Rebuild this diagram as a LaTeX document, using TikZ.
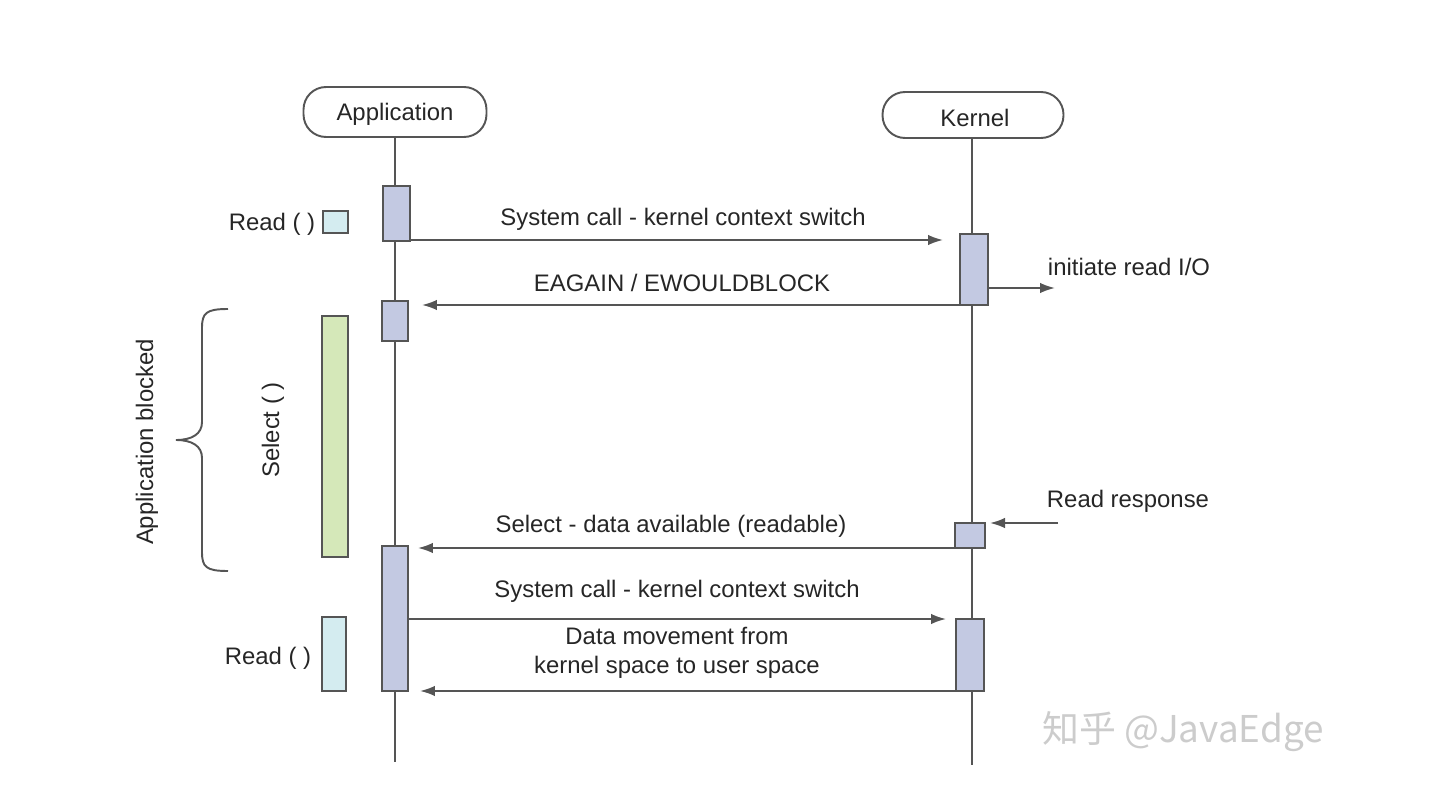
\documentclass[tikz,border=0pt]{standalone}
\usepackage{fontspec}
\setmainfont{Liberation Sans}
\newfontfamily\cjkfont{Noto Sans CJK SC}
\usetikzlibrary{arrows.meta,positioning,calc}
\definecolor{Xline}{RGB}{85,85,85}
\definecolor{Xact}{RGB}{195,201,226}
\definecolor{Xgreen}{RGB}{213,232,185}
\definecolor{Xcyan}{RGB}{212,236,240}
\tikzset{
  msg/.style={-{Latex[length=3mm,width=2.1mm]}, line width=1.1pt, draw=Xline},
  life/.style={line width=1.3pt, draw=Xline},
  actor/.style={draw=Xline, line width=1.1pt, rounded corners=0.45cm, inner sep=0pt, outer sep=0pt},
  actbox/.style={draw=Xline, line width=1.1pt, fill=Xact, inner sep=0pt, outer sep=0pt},
  callbox/.style={draw=Xline, line width=1.1pt, inner sep=0pt, outer sep=0pt},
  lbl/.style={font=\fontsize{13.6}{16.4}\selectfont, text=black!85, align=center, inner sep=0pt}
}
\begin{document}
\begin{tikzpicture}[x=0.02cm, y=-0.02cm]
  \useasboundingbox (0,0) rectangle (1446,804);

  % lifelines
  \node[actor, minimum width=3.66cm, minimum height=1cm] (app) at (395,112) {};
  \node[actor, minimum width=3.62cm, minimum height=0.92cm] (kern) at (973,115) {};
  \node[lbl] (applbl) at (395,114) {Application};
  \node[lbl] (kernlbl) at (975,118) {Kernel};
  \coordinate (append) at (395,762);
  \coordinate (kernend) at (972,765);
  \draw[life] (app.south) -- (append);
  \draw[life] (kern.south -| kernend) -- (kernend);

  % activations
  \node[actbox, minimum width=0.54cm, minimum height=1.1cm] (a1) at (396.5,213.5) {};
  \node[actbox, minimum width=0.52cm, minimum height=0.8cm] (a2) at (395,321) {};
  \node[actbox, minimum width=0.52cm, minimum height=2.9cm] (a3) at (395,618.5) {};
  \node[actbox, minimum width=0.56cm, minimum height=1.42cm] (k1) at (974,269.5) {};
  \node[actbox, minimum width=0.6cm, minimum height=0.5cm] (k2) at (970,535.5) {};
  \node[actbox, minimum width=0.56cm, minimum height=1.44cm] (k3) at (970,655) {};

  % calls on the application side
  \node[callbox, fill=Xcyan, minimum width=0.5cm, minimum height=0.44cm] (rd1) at (335.5,222) {};
  \node[callbox, fill=Xgreen, minimum width=0.52cm, minimum height=4.82cm] (sel) at (335,436.5) {};
  \node[callbox, fill=Xcyan, minimum width=0.48cm, minimum height=1.48cm] (rd2) at (334,654) {};
  \node[lbl] (rd1lbl) at (272,224) {Read ( )};
  \node[lbl, rotate=90] (sellbl) at (273,430) {Select ( )};
  \node[lbl] (rd2lbl) at (268,658) {Read ( )};

  % blocked brace
  \draw[line width=1.1pt, draw=Xline] (228,309) .. controls (206,309) and (202,313) .. (202,328)
    -- (202,422) .. controls (202,434) and (192,440) .. (176,440)
    .. controls (192,440) and (202,446) .. (202,458)
    -- (202,552) .. controls (202,567) and (206,571) .. (228,571);
  \node[lbl, rotate=90] (blocked) at (147,442) {Application blocked};

  % messages
  \draw[msg, shorten >=0.34cm] ($(a1.south east)+(0,-1)$) -- ($(a1.south east -| k1.west)+(0,-1)$);
  \node[lbl] (sc1) at (683,219) {System call - kernel context switch};

  \coordinate (io) at (1055,288);
  \draw[msg] (k1.east |- io) -- (io);
  \node[lbl] (iolbl) at (1129,267) {initiate read I/O};

  \draw[msg, shorten >=0.28cm] (k1.south west) -- (k1.south -| a2.east);
  \node[lbl] (eagain) at (682,283) {EAGAIN / EWOULDBLOCK};

  \coordinate (rr) at (1058,523);
  \draw[msg, shorten >=0.1cm] (rr) -- (k2.east |- rr);
  \node[lbl] (rrlbl) at (1128,501) {Read response};

  \draw[msg, shorten >=0.2cm] (k2.south west) -- (k2.south -| a3.east);
  \node[lbl] (avail) at (671,526) {Select - data available (readable)};

  \draw[msg, shorten >=0.2cm] (a3.east |- k3.north) -- (k3.north west);
  \node[lbl] (sc2) at (677,591) {System call - kernel context switch};

  \draw[msg, shorten >=0.24cm] (k3.south west) -- (a3.south east);
  \node[lbl] (move) at (677,653) {Data movement from\\kernel space to user space};

  % watermark
  \node[font=\cjkfont\fontsize{21}{24}\selectfont, text=black!20] (mark) at (1183,732) {知乎 @JavaEdge};
\end{tikzpicture}
\end{document}
